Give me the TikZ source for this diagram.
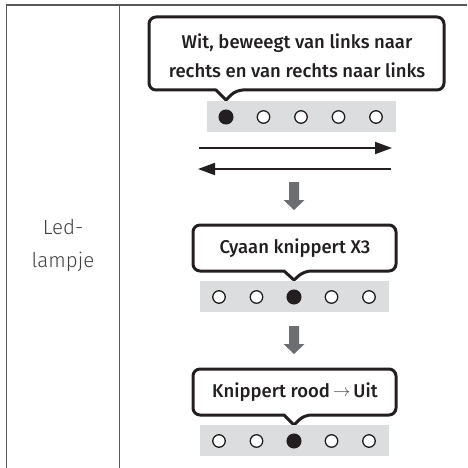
\documentclass[tikz,border=0pt]{standalone}
\usepackage{fontspec}
\setmainfont{Fira Sans}
\newfontfamily\medfont{Fira Sans Medium}
\newfontfamily\lightfont{Fira Sans Light}
\usetikzlibrary{arrows.meta}
\definecolor{ink}{HTML}{231F20}
\definecolor{barfill}{HTML}{DCDDDE}
\definecolor{downgray}{HTML}{6D6E71}
\definecolor{rule}{HTML}{58595B}
\tikzset{
  tablerule/.style={draw=rule, line width=1.3pt},
  bubbletext/.style={font=\medfont\fontsize{18.5}{29}\selectfont, text=ink, align=center, inner sep=0pt},
  bubbleline/.style={draw=ink, fill=white, line width=3pt, line join=round},
  ledbar/.style={fill=barfill, draw=none},
  ledon/.style={circle, fill=ink, draw=ink, line width=1pt, minimum size=14pt, inner sep=0pt},
  ledoff/.style={circle, fill=white, draw=ink, line width=1.3pt, minimum size=12.5pt, inner sep=0pt},
  moveline/.style={draw=ink, line width=2pt, -{Triangle[length=17pt,width=12pt]}},
  downarrow/.style={fill=downgray, draw=none},
  labeltext/.style={font=\lightfont\fontsize{20.5}{33}\selectfont, text=ink!85, align=center, inner sep=0pt}
}
\begin{document}
\begin{tikzpicture}[x=1pt,y=-1pt]
\useasboundingbox (0,0) rectangle (467,468);
% table
\coordinate (tl) at (6.5,5);
\coordinate (tr) at (467,5);
\coordinate (bl) at (6.5,468);
\coordinate (mt) at (119.5,5);
\coordinate (mb) at (119.5,468);
\draw[tablerule] (tr) -- (tl) -- (bl);
\draw[tablerule] (mt) -- (mb);
\node[labeltext] (lbl) at (63,245) {Led-\\lampje};

% ---- bubble 1
\coordinate (b1nw) at (149,17);
\coordinate (b1se) at (444,90);
\coordinate (b1tip) at (226,100);
\draw[bubbleline, rounded corners=7pt] (b1nw) -- (b1nw -| b1se) -- (b1se) -- ([xshift=10pt]b1tip |- b1se) [sharp corners] -- (b1tip) -- ([xshift=-10pt]b1tip |- b1se) [rounded corners=7pt] -- (b1nw |- b1se) -- cycle;
\node[bubbletext] (t1) at (297,56) {Wit, beweegt van links naar\\rechts en van rechts naar links};

% bar 1
\fill[ledbar] (207,101) rectangle (396,132);
\node[ledon] (a1) at (226,117) {};
\node[ledoff] (a2) at (263.5,117) {};
\node[ledoff] (a3) at (301,117) {};
\node[ledoff] (a4) at (338.5,117) {};
\node[ledoff] (a5) at (376,117) {};

% move arrows
\coordinate (r1) at (199,148);
\coordinate (r2) at (392,148);
\coordinate (l1) at (391,169);
\coordinate (l2) at (198,169);
\draw[moveline] (r1) -- (r2);
\draw[moveline] (l1) -- (l2);

% down arrow 1
\fill[downarrow] (289,182) -- (299,182) -- (299,200) -- (304.5,200) -- (294,210) -- (283.5,200) -- (289,200) -- cycle;

% ---- bubble 2
\coordinate (b2nw) at (193,225);
\coordinate (b2se) at (396,271);
\coordinate (b2tip) at (294,280);
\draw[bubbleline, rounded corners=7pt] (b2nw) -- (b2nw -| b2se) -- (b2se) -- ([xshift=10pt]b2tip |- b2se) [sharp corners] -- (b2tip) -- ([xshift=-10pt]b2tip |- b2se) [rounded corners=7pt] -- (b2nw |- b2se) -- cycle;
\node[bubbletext] (t2) at (295,248) {Cyaan knippert X3};

% bar 2
\fill[ledbar] (200,281) rectangle (389,312);
\node[ledoff] (c1) at (219,297) {};
\node[ledoff] (c2) at (256.5,297) {};
\node[ledon] (c3) at (294,297) {};
\node[ledoff] (c4) at (331.5,297) {};
\node[ledoff] (c5) at (369,297) {};

% down arrow 2
\fill[downarrow] (289,326) -- (299,326) -- (299,344) -- (304.5,344) -- (294,354) -- (283.5,344) -- (289,344) -- cycle;

% ---- bubble 3
\coordinate (b3nw) at (193,369);
\coordinate (b3se) at (396,415);
\coordinate (b3tip) at (294,425);
\draw[bubbleline, rounded corners=7pt] (b3nw) -- (b3nw -| b3se) -- (b3se) -- ([xshift=10pt]b3tip |- b3se) [sharp corners] -- (b3tip) -- ([xshift=-10pt]b3tip |- b3se) [rounded corners=7pt] -- (b3nw |- b3se) -- cycle;
\node[bubbletext] (t3) at (295,392) {Knippert rood\,{\fontsize{16}{16}\selectfont\color{ink!80}\raisebox{1pt}{$\rightarrow$}}\,Uit};

% bar 3
\fill[ledbar] (200,425) rectangle (389,456);
\node[ledoff] (d1) at (219,441) {};
\node[ledoff] (d2) at (256.5,441) {};
\node[ledon] (d3) at (294,441) {};
\node[ledoff] (d4) at (331.5,441) {};
\node[ledoff] (d5) at (369,441) {};
\end{tikzpicture}
\end{document}
